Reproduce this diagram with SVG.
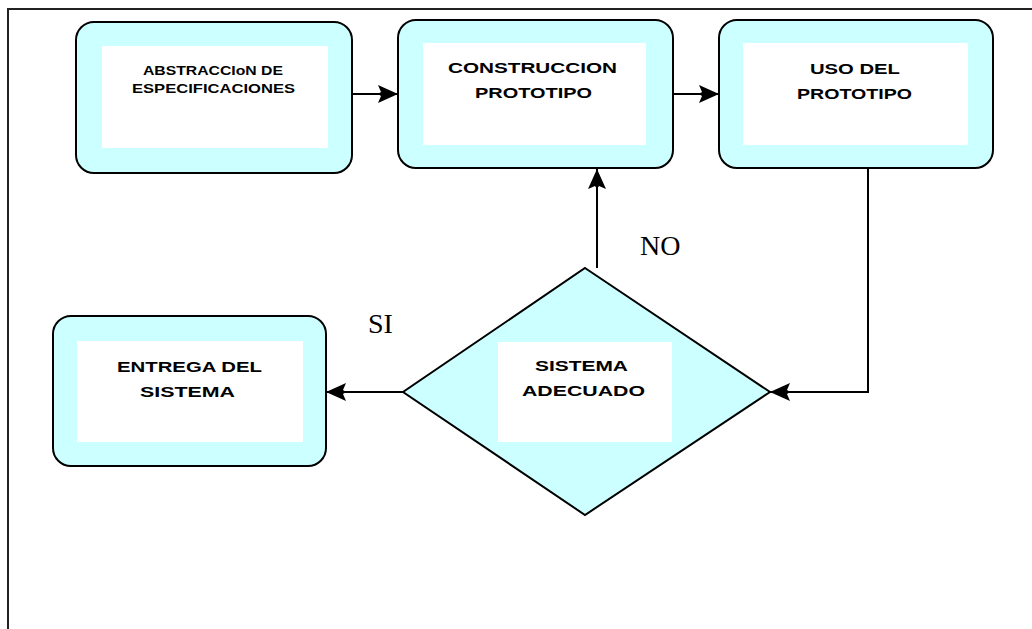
<svg xmlns="http://www.w3.org/2000/svg" width="1032" height="629" viewBox="0 0 1032 629">
  <defs>
    <style>
      .frame { fill: none; stroke: #222; stroke-width: 2; }
      .box { fill: #CCFFFF; stroke: #000; stroke-width: 2; }
      .inner { fill: #FFFFFF; stroke: none; }
      .lbl { font-family: "Liberation Sans", Arial, sans-serif; font-size: 15px; font-weight: bold; fill: #000; text-anchor: start; }
      .lbl-sm { font-size: 13px; }
      .tag { font-family: "Liberation Serif", "Times New Roman", serif; font-size: 28px; fill: #000; }
      .conn { fill: none; stroke: #000; stroke-width: 2; }
    </style>
    <marker id="arrow" viewBox="0 0 20 18" refX="20" refY="9" markerWidth="20" markerHeight="18" markerUnits="userSpaceOnUse" orient="auto">
      <path d="M0,0 L3,7 L0,9 L3,11 L0,18 L20,9 Z" fill="#000"/>
    </marker>
  </defs>

  <!-- page frame (top and left edges) -->
  <path class="frame" d="M8,629 L8,9 L1032,9"/>

  <g id="abstraccion">
    <rect class="box" x="76" y="22" width="276" height="151" rx="18" ry="18"/>
    <rect class="inner" x="102" y="46" width="226" height="102"/>
    <text class="lbl lbl-sm" x="143" y="75" textLength="140" lengthAdjust="spacingAndGlyphs">ABSTRACCIoN DE</text>
    <text class="lbl lbl-sm" x="132" y="93" textLength="163" lengthAdjust="spacingAndGlyphs">ESPECIFICACIONES</text>
  </g>

  <g id="construccion">
    <rect class="box" x="398" y="20" width="275" height="148" rx="18" ry="18"/>
    <rect class="inner" x="423" y="43" width="223" height="102"/>
    <text class="lbl" x="448" y="73" textLength="169" lengthAdjust="spacingAndGlyphs">CONSTRUCCION</text>
    <text class="lbl" x="475" y="98" textLength="117" lengthAdjust="spacingAndGlyphs">PROTOTIPO</text>
  </g>

  <g id="uso">
    <rect class="box" x="719" y="20" width="274" height="148" rx="18" ry="18"/>
    <rect class="inner" x="743" y="43" width="225" height="102"/>
    <text class="lbl" x="810" y="74" textLength="90" lengthAdjust="spacingAndGlyphs">USO DEL</text>
    <text class="lbl" x="797" y="99" textLength="115" lengthAdjust="spacingAndGlyphs">PROTOTIPO</text>
  </g>

  <g id="entrega">
    <rect class="box" x="53" y="316" width="273" height="150" rx="18" ry="18"/>
    <rect class="inner" x="77" y="341" width="226" height="101"/>
    <text class="lbl" x="117" y="372" textLength="145" lengthAdjust="spacingAndGlyphs">ENTREGA DEL</text>
    <text class="lbl" x="140" y="397" textLength="95" lengthAdjust="spacingAndGlyphs">SISTEMA</text>
  </g>

  <g id="decision">
    <polygon class="box" points="585,268 770,392 585,515 403,392"/>
    <rect class="inner" x="498" y="342" width="174" height="100"/>
    <text class="lbl" x="535" y="371" textLength="93" lengthAdjust="spacingAndGlyphs">SISTEMA</text>
    <text class="lbl" x="522" y="396" textLength="123" lengthAdjust="spacingAndGlyphs">ADECUADO</text>
  </g>

  <g id="connectors">
    <line class="conn" x1="352" y1="94" x2="398" y2="94" marker-end="url(#arrow)"/>
    <line class="conn" x1="673" y1="94" x2="719" y2="94" marker-end="url(#arrow)"/>
    <line class="conn" x1="597" y1="268" x2="597" y2="169" marker-end="url(#arrow)"/>
    <polyline class="conn" points="868,168 868,392 770,392" marker-end="url(#arrow)"/>
    <line class="conn" x1="403" y1="392" x2="326" y2="392" marker-end="url(#arrow)"/>
    <text class="tag" x="640" y="255">NO</text>
    <text class="tag" x="368" y="333">SI</text>
  </g>
</svg>
